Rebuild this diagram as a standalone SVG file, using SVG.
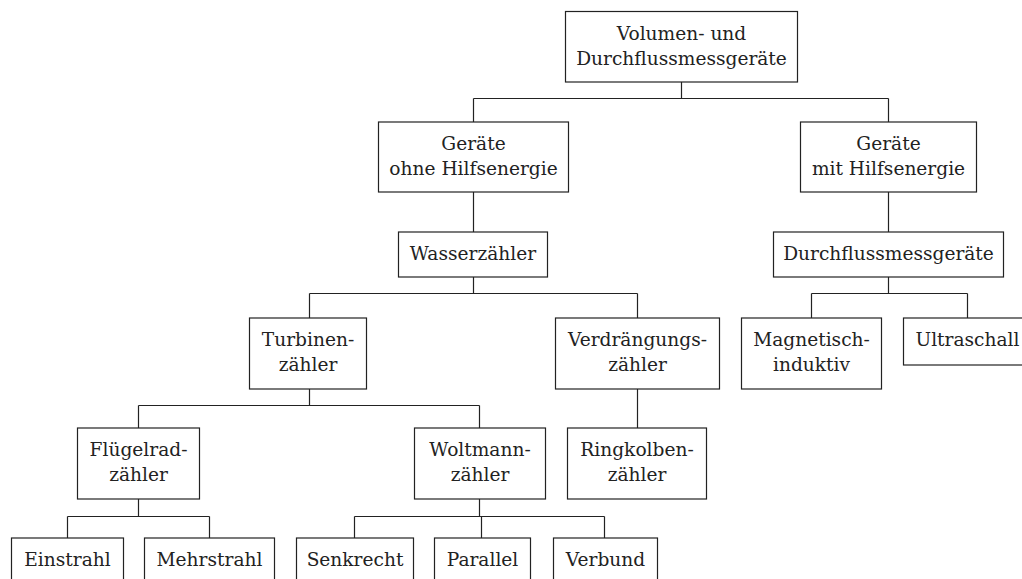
<svg xmlns="http://www.w3.org/2000/svg" width="1022" height="579" viewBox="0 0 1022 579">
<style>
rect{fill:#fff;stroke:#222;stroke-width:1.2}
text{font-family:"DejaVu Serif","Liberation Serif",serif;font-size:18.6px;fill:#222;text-anchor:middle}
.c{fill:none;stroke:#222;stroke-width:1.2}
</style>
<rect x="0" y="0" width="1022" height="579" style="stroke:none"/>
<g id="connectors">
<path class="c" d="M681.5 82V98.5M473.5 98.5H888.5M473.5 98.5V122M888.5 98.5V122"/>
<path class="c" d="M473.5 192V232M888.5 192V232"/>
<path class="c" d="M473.5 277V293.5M309.5 293.5H637.5M309.5 293.5V318M637.5 293.5V318"/>
<path class="c" d="M888.5 277V293.5M811.5 293.5H967.5M811.5 293.5V318M967.5 293.5V318"/>
<path class="c" d="M309.5 389V405.5M138.5 405.5H479.5M138.5 405.5V428M479.5 405.5V428"/>
<path class="c" d="M637.5 389V428"/>
<path class="c" d="M138.5 499V516.5M67.5 516.5H209.5M67.5 516.5V538M209.5 516.5V538"/>
<path class="c" d="M479.5 499V516.5M354.5 516.5H604.5M354.5 516.5V538M481.5 516.5V538M604.5 516.5V538"/>
</g>
<g id="n-root"><rect x="565.5" y="11.5" width="232" height="70.5"/><text x="681.5" y="40">Volumen- und</text><text x="681.5" y="65">Durchflussmessgeräte</text></g>
<g id="n-ohne"><rect x="378.5" y="122" width="190" height="70"/><text x="473.5" y="150">Geräte</text><text x="473.5" y="175">ohne Hilfsenergie</text></g>
<g id="n-mit"><rect x="800.5" y="122" width="176" height="70"/><text x="888.5" y="150">Geräte</text><text x="888.5" y="175">mit Hilfsenergie</text></g>
<g id="n-wasser"><rect x="398.5" y="232" width="149" height="45"/><text x="473" y="260">Wasserzähler</text></g>
<g id="n-durchfluss"><rect x="773.5" y="232" width="230" height="45"/><text x="888.5" y="260">Durchflussmessgeräte</text></g>
<g id="n-turbinen"><rect x="249.5" y="318" width="117" height="71"/><text x="308" y="346">Turbinen-</text><text x="308" y="371">zähler</text></g>
<g id="n-verdraengung"><rect x="555.5" y="318" width="164" height="71"/><text x="637.5" y="346">Verdrängungs-</text><text x="637.5" y="371">zähler</text></g>
<g id="n-magnetisch"><rect x="741.5" y="318" width="140" height="71"/><text x="811.5" y="346">Magnetisch-</text><text x="811.5" y="371">induktiv</text></g>
<g id="n-ultraschall"><rect x="903.5" y="318" width="128" height="47"/><text x="967.5" y="346">Ultraschall</text></g>
<g id="n-fluegelrad"><rect x="77.5" y="428" width="122" height="71"/><text x="138.5" y="456">Flügelrad-</text><text x="138.5" y="481">zähler</text></g>
<g id="n-woltmann"><rect x="414.5" y="428" width="131" height="71"/><text x="480" y="456">Woltmann-</text><text x="480" y="481">zähler</text></g>
<g id="n-ringkolben"><rect x="567.5" y="428" width="139" height="71"/><text x="637" y="456">Ringkolben-</text><text x="637" y="481">zähler</text></g>
<g id="n-einstrahl"><rect x="11.5" y="538" width="112" height="50"/><text x="67.5" y="566">Einstrahl</text></g>
<g id="n-mehrstrahl"><rect x="144.5" y="538" width="130" height="50"/><text x="209.5" y="566">Mehrstrahl</text></g>
<g id="n-senkrecht"><rect x="296.5" y="538" width="117" height="50"/><text x="355" y="566">Senkrecht</text></g>
<g id="n-parallel"><rect x="434.5" y="538" width="96" height="50"/><text x="482.5" y="566">Parallel</text></g>
<g id="n-verbund"><rect x="553.5" y="538" width="104" height="50"/><text x="605.5" y="566">Verbund</text></g>
</svg>
